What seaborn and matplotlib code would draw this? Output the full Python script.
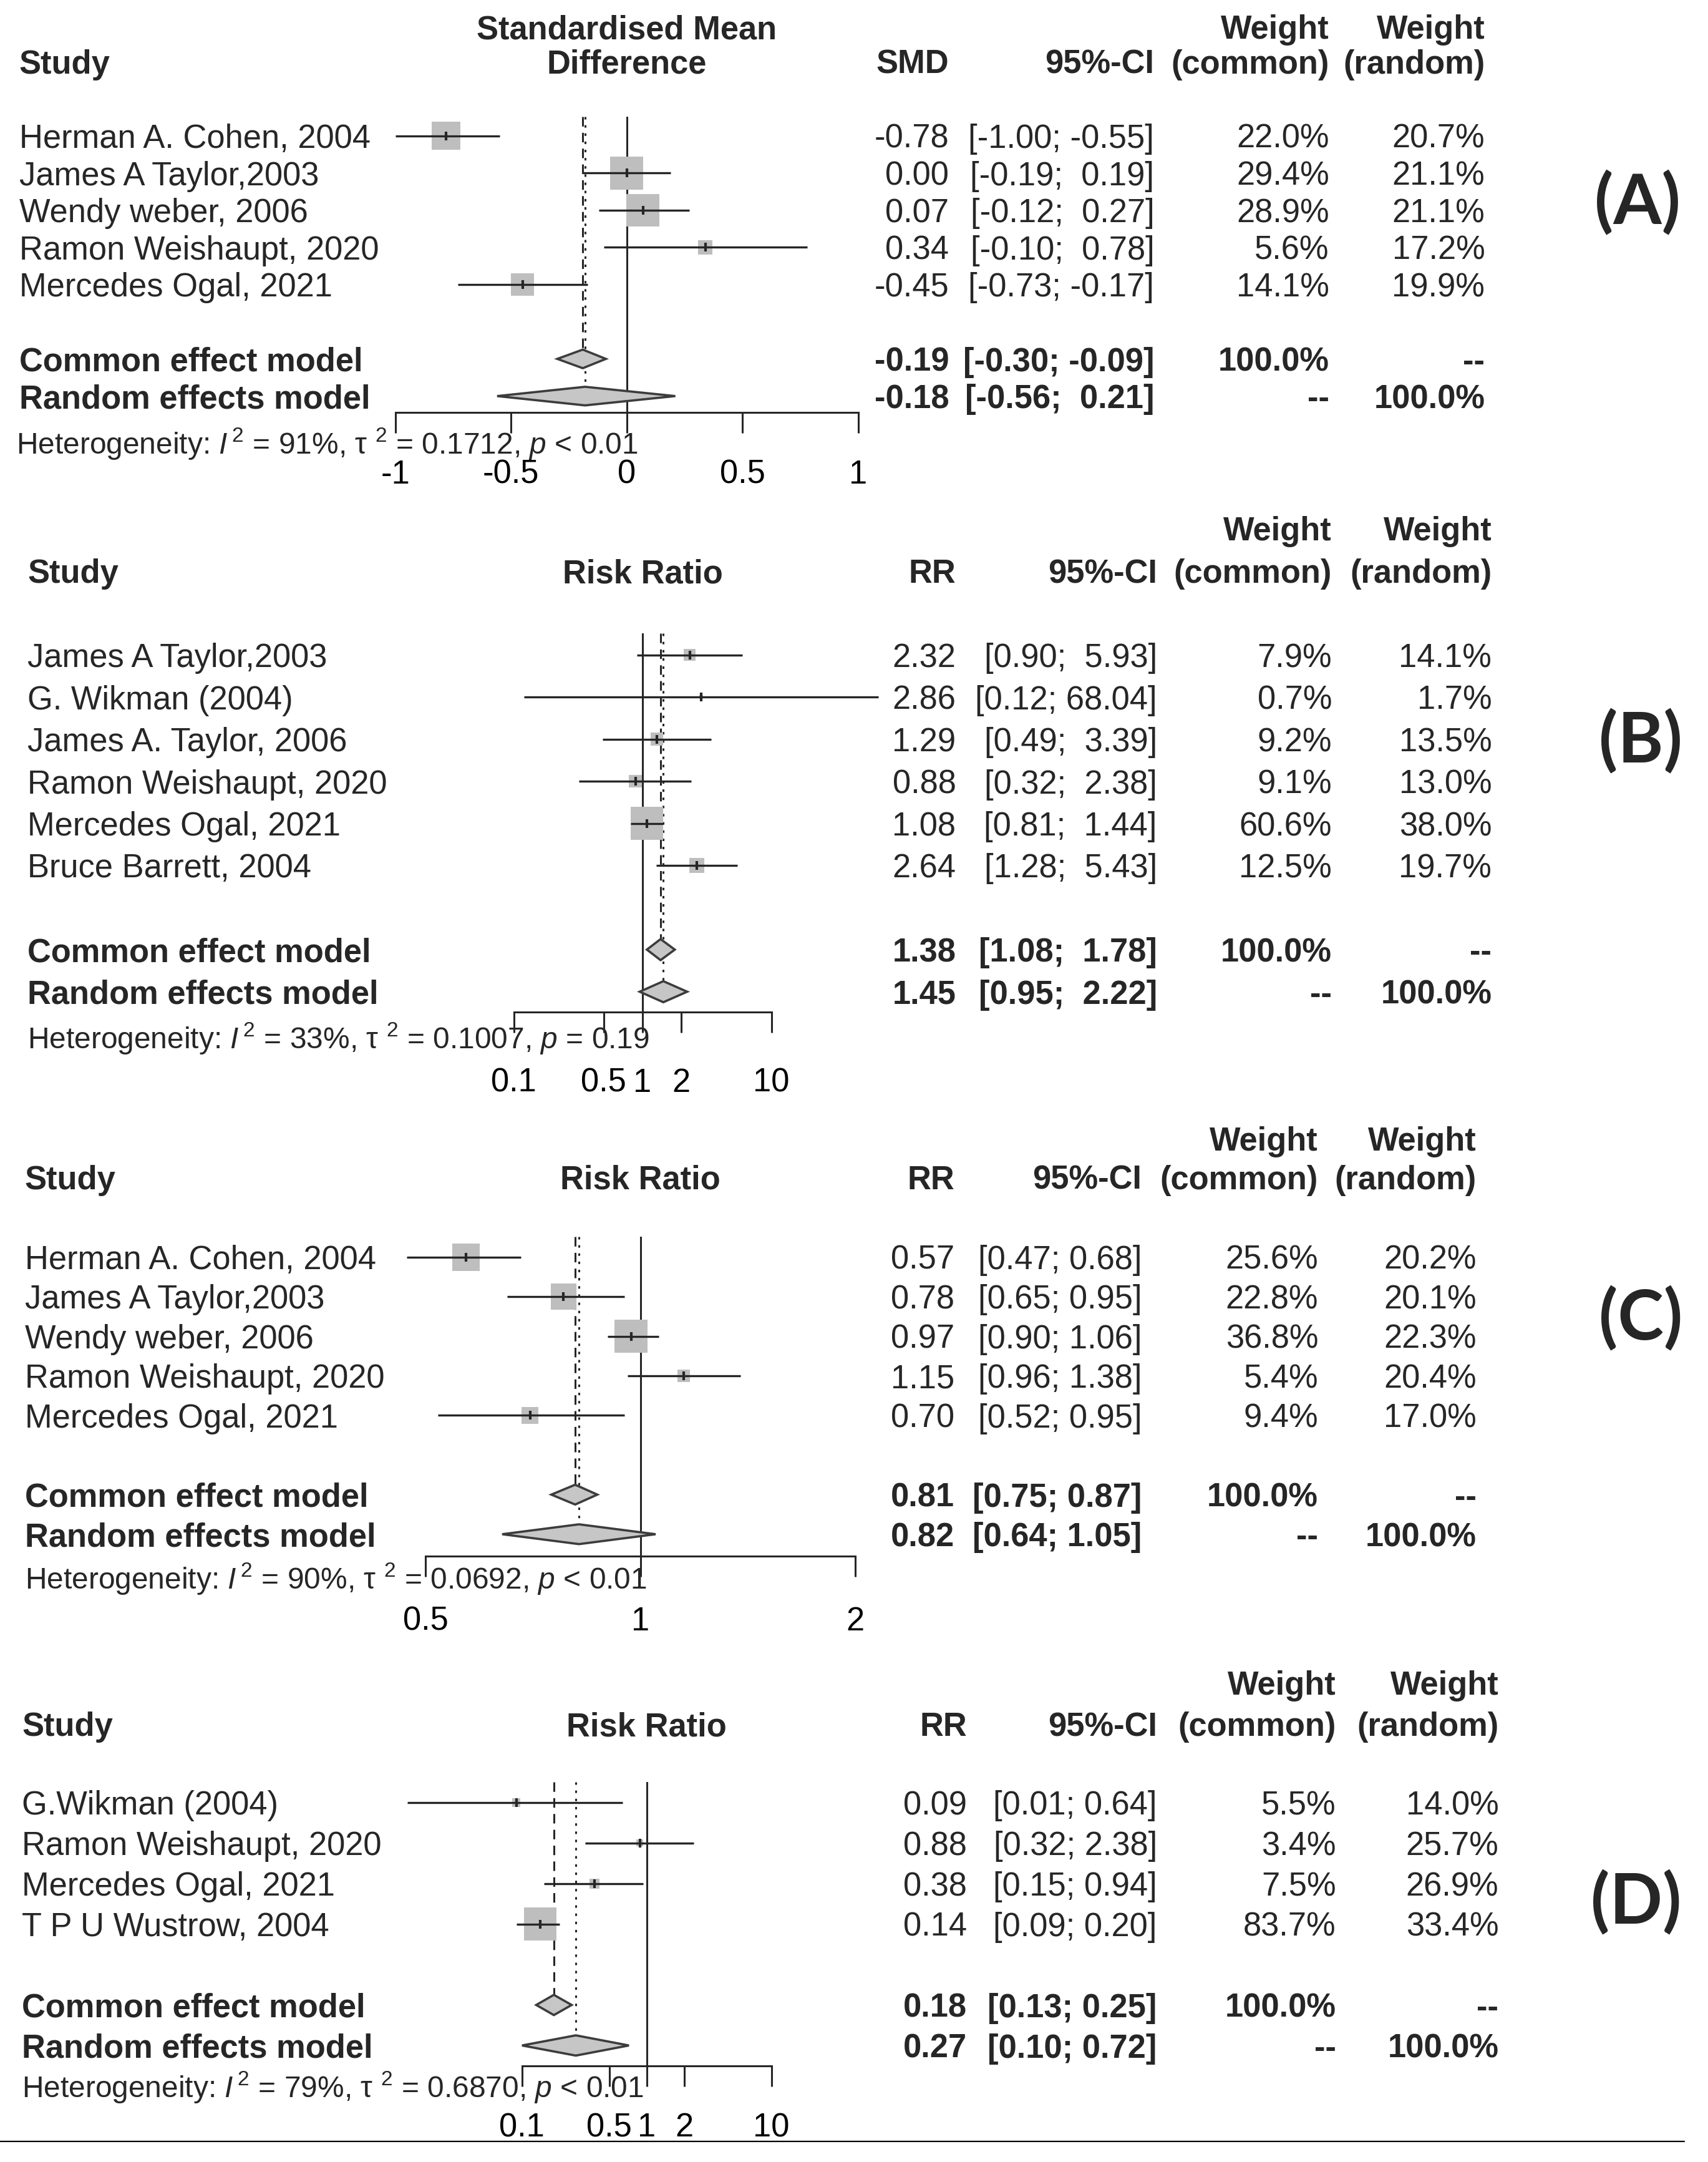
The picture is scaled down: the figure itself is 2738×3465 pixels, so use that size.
import numpy as np
import pandas as pd
import matplotlib
matplotlib.use("Agg")
import matplotlib.pyplot as plt
import seaborn as sns
from matplotlib.transforms import blended_transform_factory
from matplotlib.lines import Line2D
from matplotlib.ticker import NullLocator

# ---------------- data ----------------
# (A) Standardised mean difference
a_study = ["Herman A. Cohen, 2004", "James A Taylor,2003", "Wendy weber, 2006",
           "Ramon Weishaupt, 2020", "Mercedes Ogal, 2021"]
a_est = [-0.78, 0.00, 0.07, 0.34, -0.45]
a_lo = [-1.00, -0.19, -0.12, -0.10, -0.73]
a_hi = [-0.55, 0.19, 0.27, 0.78, -0.17]
a_wc = [22.0, 29.4, 28.9, 5.6, 14.1]
a_wr = [20.7, 21.1, 21.1, 17.2, 19.9]
a_common = [-0.19, -0.30, -0.09]
a_random = [-0.18, -0.56, 0.21]
a_het = ["91%", "0.1712", "< 0.01"]
a_ticks = [-1, -0.5, 0, 0.5, 1]
a_ticklabels = ["-1", "-0.5", "0", "0.5", "1"]

# (B) Risk ratio
b_study = ["James A Taylor,2003", "G. Wikman (2004)", "James A. Taylor, 2006",
           "Ramon Weishaupt, 2020", "Mercedes Ogal, 2021", "Bruce Barrett, 2004"]
b_est = [2.32, 2.86, 1.29, 0.88, 1.08, 2.64]
b_lo = [0.90, 0.12, 0.49, 0.32, 0.81, 1.28]
b_hi = [5.93, 68.04, 3.39, 2.38, 1.44, 5.43]
b_wc = [7.9, 0.7, 9.2, 9.1, 60.6, 12.5]
b_wr = [14.1, 1.7, 13.5, 13.0, 38.0, 19.7]
b_common = [1.38, 1.08, 1.78]
b_random = [1.45, 0.95, 2.22]
b_het = ["33%", "0.1007", "= 0.19"]
b_ticks = [0.1, 0.5, 1, 2, 10]
b_ticklabels = ["0.1", "0.5", "1", "2", "10"]

# (C) Risk ratio
c_study = ["Herman A. Cohen, 2004", "James A Taylor,2003", "Wendy weber, 2006",
           "Ramon Weishaupt, 2020", "Mercedes Ogal, 2021"]
c_est = [0.57, 0.78, 0.97, 1.15, 0.70]
c_lo = [0.47, 0.65, 0.90, 0.96, 0.52]
c_hi = [0.68, 0.95, 1.06, 1.38, 0.95]
c_wc = [25.6, 22.8, 36.8, 5.4, 9.4]
c_wr = [20.2, 20.1, 22.3, 20.4, 17.0]
c_common = [0.81, 0.75, 0.87]
c_random = [0.82, 0.64, 1.05]
c_het = ["90%", "0.0692", "< 0.01"]
c_ticks = [0.5, 1, 2]
c_ticklabels = ["0.5", "1", "2"]

# (D) Risk ratio
d_study = ["G.Wikman (2004)", "Ramon Weishaupt, 2020", "Mercedes Ogal, 2021",
           "T P U Wustrow, 2004"]
d_est = [0.09, 0.88, 0.38, 0.14]
d_lo = [0.012, 0.32, 0.15, 0.09]
d_hi = [0.64, 2.38, 0.94, 0.20]
d_wc = [5.5, 3.4, 7.5, 83.7]
d_wr = [14.0, 25.7, 26.9, 33.4]
d_common = [0.18, 0.13, 0.25]
d_random = [0.27, 0.10, 0.72]
d_het = ["79%", "0.6870", "< 0.01"]
d_ticks = [0.1, 0.5, 1, 2, 10]
d_ticklabels = ["0.1", "0.5", "1", "2", "10"]

# ---------------- style ----------------
sns.set_theme(style="white")
plt.rcParams['font.family'] = ['Liberation Sans', 'DejaVu Sans']
plt.rcParams['mathtext.fontset'] = 'custom'
plt.rcParams['mathtext.rm'] = 'Liberation Sans'
plt.rcParams['mathtext.it'] = 'Liberation Sans:italic'
plt.rcParams['mathtext.bf'] = 'Liberation Sans:bold'

W, H = 1240.0, 1570.0          # layout units (reference scaled by ~2.208)
FS = 37.8
HFS = 34.5
LINE = '#262626'
SQ_COLOR = '#bebebe'
DIA_FILL = '#c6c6c6'
DIA_EDGE = '#3c3c3c'
SQ_MAX = 38.0                   # side (pt) of the largest square
DH = 0.25                       # diamond half height (rows)

fig = plt.figure(figsize=(27.38, 34.66), dpi=100)
fig.patch.set_facecolor('white')


def fx(d):
    return d / W


def fmt_ci(lo_list, hi_list):
    los = [f"{v:.2f}" for v in lo_list]
    his = [f"{v:.2f}" for v in hi_list]
    wl = max(len(s) for s in los)
    wh = max(len(s) for s in his)
    return [f"[{l.rjust(wl)}; {h.rjust(wh)}]" for l, h in zip(los, his)]


def lin_map(c, s):
    return lambda v: c + s * v


def log_map(c, s):
    return lambda v: c + s * np.log10(v)


panels = [
    dict(label="(A)", study=a_study, est=a_est, lo=a_lo, hi=a_hi, wc=a_wc, wr=a_wr,
         common=a_common, random=a_random, het=a_het, ticks=a_ticks, ticklabels=a_ticklabels,
         measure="SMD", xtitle=["Standardised Mean", "Difference"], null=0, log=False,
         xa=lin_map(455, 168), xlim=(-1.3, 1.3), y0=99, rs=27, axis_r=7.44, top_r=-0.52,
         het_r=8.19, hdr=(-2.93, -2.0), study_x=14, het_x=12, est_r=689, ci_r=838,
         wc_r=965, wr_r=1078, lab=(1189, 147), pad=29),
    dict(label="(B)", study=b_study, est=b_est, lo=b_lo, hi=b_hi, wc=b_wc, wr=b_wr,
         common=b_common, random=b_random, het=b_het, ticks=b_ticks, ticklabels=b_ticklabels,
         measure="RR", xtitle=["Risk Ratio"], null=1, log=True,
         xa=log_map(466.5, 93.5), xlim=(0.05, 100), y0=476, rs=30.55, axis_r=8.49, top_r=-0.52,
         het_r=9.03, hdr=(-3.01, -2.0), study_x=20, het_x=20, est_r=694, ci_r=840,
         wc_r=967, wr_r=1083, lab=(1191, 538), pad=39),
    dict(label="(C)", study=c_study, est=c_est, lo=c_lo, hi=c_hi, wc=c_wc, wr=c_wr,
         common=c_common, random=c_random, het=c_het, ticks=c_ticks, ticklabels=c_ticklabels,
         measure="RR", xtitle=["Risk Ratio"], null=1, log=True,
         xa=log_map(465, 518.2), xlim=(0.4, 2.5), y0=913, rs=28.75, axis_r=7.55, top_r=-0.52,
         het_r=8.03, hdr=(-2.99, -2.02), study_x=18, het_x=18, est_r=693, ci_r=829,
         wc_r=957, wr_r=1072, lab=(1191, 957), pad=33),
    dict(label="(D)", study=d_study, est=d_est, lo=d_lo, hi=d_hi, wc=d_wc, wr=d_wr,
         common=d_common, random=d_random, het=d_het, ticks=d_ticks, ticklabels=d_ticklabels,
         measure="RR", xtitle=["Risk Ratio"], null=1, log=True,
         xa=log_map(469.5, 90.5), xlim=(0.005, 20), y0=1309, rs=29.4, axis_r=6.5, top_r=-0.5,
         het_r=6.94, hdr=(-2.96, -1.94), study_x=16, het_x=16, est_r=702, ci_r=840,
         wc_r=970, wr_r=1088, lab=(1188, 1381), pad=29),
]


def draw_panel(p):
    n = len(p['study'])
    rows = np.arange(n)
    r_common, r_random = n + 1, n + 2
    xa = p['xa']
    x0d, x1d = xa(p['xlim'][0]), xa(p['xlim'][1])
    ytop_d = p['y0'] + p['rs'] * p['top_r']
    ybot_d = p['y0'] + p['rs'] * p['axis_r']
    ax = fig.add_axes([x0d / W, 1 - ybot_d / H, (x1d - x0d) / W, (ybot_d - ytop_d) / H])
    ax.set_facecolor('none')
    if p['log']:
        ax.set_xscale('log')

    df = pd.DataFrame(dict(est=p['est'], row=rows, w=p['wc']))
    # weighted squares (area proportional to common-effect weight)
    sns.scatterplot(data=df, x='est', y='row', size='w', sizes=(0, SQ_MAX ** 2),
                    size_norm=(0, max(p['wc'])), marker='s', color=SQ_COLOR,
                    linewidth=0, legend=False, ax=ax, zorder=2, clip_on=False)
    # confidence intervals
    ax.hlines(rows, p['lo'], p['hi'], colors=LINE, lw=2.4, zorder=3, clip_on=False)
    # point estimates
    sns.scatterplot(data=df, x='est', y='row', marker='|', s=90, color=LINE,
                    linewidth=3, legend=False, ax=ax, zorder=4, clip_on=False)

    # reference lines
    ax.axvline(p['null'], color=LINE, lw=2.2, zorder=1)
    ax.vlines(p['common'][0], p['top_r'], r_common + DH, colors=LINE, lw=2.2,
              linestyles=(0, (5, 3.3)), zorder=1)
    ax.vlines(p['random'][0], p['top_r'], r_random + DH, colors=LINE, lw=2.2,
              linestyles=(0, (1.3, 3)), zorder=1)

    # summary diamonds
    for r, (e, l, h) in ((r_common, p['common']), (r_random, p['random'])):
        ax.fill([l, e, h, e], [r, r - DH, r, r + DH], facecolor=DIA_FILL,
                edgecolor=DIA_EDGE, lw=2.6, zorder=5, joinstyle='miter', clip_on=False)

    ax.set_xlim(p['xlim'])
    ax.set_ylim(p['axis_r'], p['top_r'])
    ax.set_xlabel('')
    ax.set_ylabel('')
    ax.set_yticks([])
    for s in ['top', 'left', 'right']:
        ax.spines[s].set_visible(False)
    ax.spines['bottom'].set_bounds(p['ticks'][0], p['ticks'][-1])
    ax.spines['bottom'].set_color(LINE)
    ax.spines['bottom'].set_linewidth(2.2)
    ax.set_xticks(p['ticks'])
    ax.set_xticklabels(p['ticklabels'])
    ax.xaxis.set_minor_locator(NullLocator())
    ax.tick_params(axis='x', which='major', bottom=True, direction='out', length=24,
                   width=2.2, color=LINE, pad=p['pad'], labelsize=FS, labelcolor='black')

    trans = blended_transform_factory(fig.transFigure, ax.transData)
    dy = 2.0 / p['rs']           # small downward nudge so caps centre on the row
    h1, h2 = p['hdr'][0] + dy, p['hdr'][1] + dy
    bold = dict(fontsize=FS, fontweight='bold', va='center', transform=trans)
    ax.text(fx(p['study_x']), h2, "Study", ha='left', **bold)
    for k, t in enumerate(p['xtitle']):
        hh = (h1, h2)[k] if len(p['xtitle']) == 2 else h2
        ax.text(p['null'], hh, t, ha='center', va='center', fontsize=FS, fontweight='bold')
    ax.text(fx(p['est_r']), h2, p['measure'], ha='right', **bold)
    ax.text(fx(p['ci_r']), h2, "95%-CI", ha='right', **bold)
    ax.text(fx(p['wc_r']), h1, "Weight", ha='right', **bold)
    ax.text(fx(p['wr_r']), h1, "Weight", ha='right', **bold)
    ax.text(fx(p['wc_r']), h2, "(common)", ha='right', **bold)
    ax.text(fx(p['wr_r']), h2, "(random)", ha='right', **bold)

    all_lo = list(p['lo']) + [p['common'][1], p['random'][1]]
    all_hi = list(p['hi']) + [p['common'][2], p['random'][2]]
    cis = fmt_ci(all_lo, all_hi)
    reg = dict(fontsize=FS, va='center', transform=trans)
    for i in range(n):
        y = rows[i] + dy
        ax.text(fx(p['study_x']), y, p['study'][i], ha='left', **reg)
        ax.text(fx(p['est_r']), y, f"{p['est'][i]:.2f}", ha='right', **reg)
        ax.text(fx(p['ci_r']), y, cis[i], ha='right', **reg)
        ax.text(fx(p['wc_r']), y, f"{p['wc'][i]:.1f}%", ha='right', **reg)
        ax.text(fx(p['wr_r']), y, f"{p['wr'][i]:.1f}%", ha='right', **reg)
    summ = [(r_common, "Common effect model", p['common'], cis[n], "100.0%", "--"),
            (r_random, "Random effects model", p['random'], cis[n + 1], "--", "100.0%")]
    for r, name, vals, ci, wc, wr in summ:
        y = r + dy
        ax.text(fx(p['study_x']), y, name, ha='left', **bold)
        ax.text(fx(p['est_r']), y, f"{vals[0]:.2f}", ha='right', **bold)
        ax.text(fx(p['ci_r']), y, ci, ha='right', **bold)
        ax.text(fx(p['wc_r']), y, wc, ha='right', **bold)
        ax.text(fx(p['wr_r']), y, wr, ha='right', **bold)

    i2, t2, pv = p['het']
    het = (r"Heterogeneity: $\mathit{I}^{\,2}$ = " + i2 +
           r", τ ${}^{2}$ = " + t2 + r", $\mathit{p}$ " + pv)
    ax.text(fx(p['het_x']), p['het_r'] + dy, het, ha='left', va='center', fontsize=HFS,
            transform=trans)

    fig.text(fx(p['lab'][0]), 1 - p['lab'][1] / H, p['label'], family=['Lato', 'DejaVu Sans'],
             fontweight='bold', fontsize=80, ha='center', va='center')


for p in panels:
    draw_panel(p)

fig.add_artist(Line2D([0, 1223 / W], [1 - 1555 / H, 1 - 1555 / H], color='black', lw=1.6))

fig.savefig("out.png", dpi=100)
